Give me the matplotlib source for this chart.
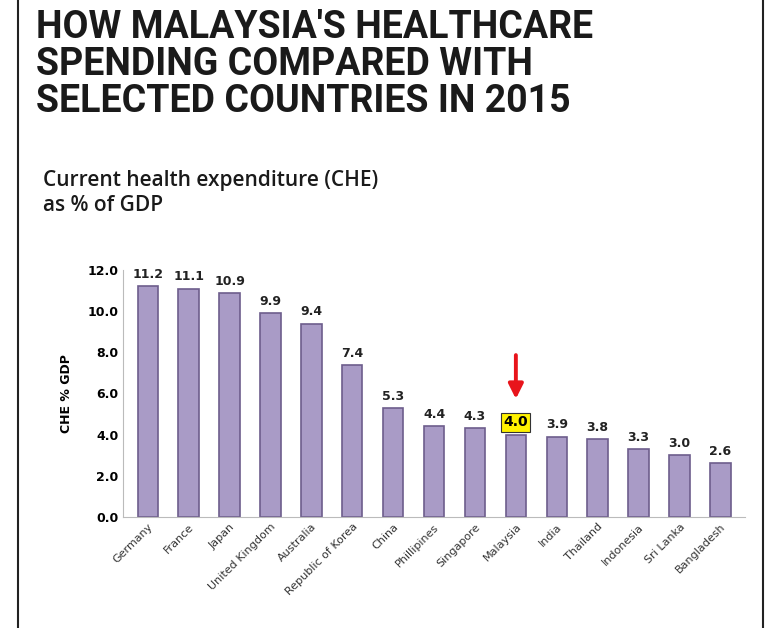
import matplotlib.pyplot as plt
import numpy as np

countries = ['Germany', 'France', 'Japan', 'United Kingdom', 'Australia',
             'Republic of Korea', 'China', 'Phillipines', 'Singapore',
             'Malaysia', 'India', 'Thailand', 'Indonesia', 'Sri Lanka',
             'Bangladesh']
che = [11.2, 11.1, 10.9, 9.9, 9.4, 7.4, 5.3, 4.4, 4.3, 4.0, 3.9, 3.8,
       3.3, 3.0, 2.6]
yticks = [0, 2, 4, 6, 8, 10, 12]

fig = plt.figure(figsize=(7.8, 6.28), dpi=100)
fig.patch.set_facecolor('white')

# side border lines
fig.add_artist(plt.Line2D([0.023, 0.023], [0, 1], color='#222222', lw=1.5))
fig.add_artist(plt.Line2D([0.978, 0.978], [0, 1], color='#222222', lw=1.5))

fig.text(0.046, 0.985, "HOW MALAYSIA'S HEALTHCARE\nSPENDING COMPARED WITH\nSELECTED COUNTRIES IN 2015",
         ha='left', va='top', fontsize=27, fontweight='bold', family='Roboto',
         color='#1a1a1a', linespacing=1.0)
fig.text(0.055, 0.73, "Current health expenditure (CHE)\nas % of GDP",
         ha='left', va='top', fontsize=15, fontweight='semibold',
         family='Open Sans', color='#1a1a1a', linespacing=1.3)

ax = fig.add_axes([0.158, 0.177, 0.797, 0.393])
x = np.arange(len(countries))
ax.bar(x, che, width=0.5, color='#a99bc6', edgecolor='#6d5d8c', linewidth=1.2)
for i, v in enumerate(che):
    if countries[i] == 'Malaysia':
        ax.text(i, v + 0.25, f'{v:.1f}', ha='center', va='bottom', fontsize=10,
                fontweight='bold', bbox=dict(boxstyle='square,pad=0.15',
                                             fc='#fff200', ec='#333333', lw=0.8))
        ax.annotate('', xy=(i, v + 1.6), xytext=(i, v + 4.0),
                    arrowprops=dict(arrowstyle='-|>', color='#e8141b', lw=2.8,
                                    mutation_scale=22))
    else:
        ax.text(i, v + 0.25, f'{v:.1f}', ha='center', va='bottom', fontsize=9,
                fontweight='bold', color='#222222')

ax.set_xlim(-0.6, len(countries) - 0.4)
ax.set_ylim(0, 12)
ax.set_yticks(yticks)
ax.set_yticklabels([f'{t:.1f}' for t in yticks], fontsize=9, fontweight='bold')
ax.set_xticks(x)
ax.set_xticklabels(countries, rotation=45, ha='right', rotation_mode='anchor',
                   fontsize=8, color='#333333')
ax.tick_params(axis='both', length=0)
ax.set_ylabel('CHE % GDP', fontsize=9, fontweight='bold', labelpad=10)
for s in ['top', 'right']:
    ax.spines[s].set_visible(False)
ax.spines['left'].set_color('#bbbbbb')
ax.spines['bottom'].set_color('#bbbbbb')

fig.savefig('out.png', dpi=100)
